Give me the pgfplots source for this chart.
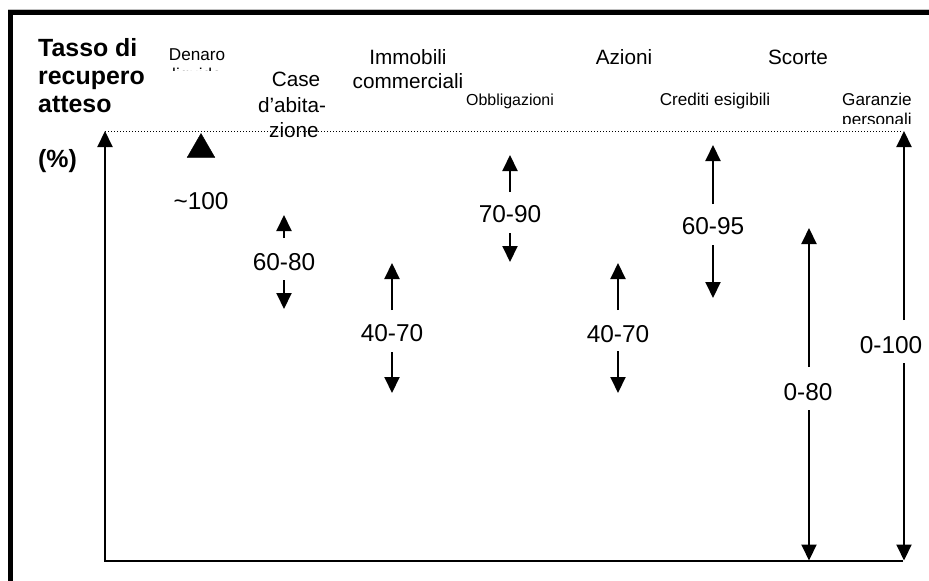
\documentclass[border=0pt]{standalone}
\usepackage{fontspec}
\setmainfont{Liberation Sans}
\usepackage{pgfplots}
\pgfplotsset{compat=1.18}
\usetikzlibrary{arrows.meta}
\newcommand{\fs}[1]{\fontsize{#1}{#1}\selectfont}
\tikzset{
  seg/.style={mark=none, black, line width=2bp},
  arr/.style={seg, -{Triangle[width=15bp,length=16bp]}},
  lab/.style={font=\fs{24.5}, inner sep=0pt, anchor=center},
  cat/.style={font=\fs{20.8}, inner sep=0pt, anchor=base},
  sm/.style={font=\fs{17.2}, inner sep=0pt, anchor=base},
  ttl/.style={font=\bfseries\fs{25}, inner sep=0pt, anchor=base west}}
\begin{document}
\begin{tikzpicture}
\begin{axis}[name=ax, scale only axis, width=929bp, height=581bp,
  xmin=0, xmax=929, ymin=0, ymax=581, y dir=reverse,
  axis lines=none, clip=false]
% frame
\addplot[mark=none, gray!50, line width=0.8bp] coordinates {(8,9) (929,9)};
\addplot[mark=none, black, line width=5bp, line join=miter] coordinates {(10.3,581) (10.3,13) (929,13)};
% axes
\addplot[arr, line join=miter] coordinates {(903,560.5) (105,560.5) (105,131)};
\addplot[mark=none, black, line width=1bp, dash pattern=on 1bp off 2bp] coordinates {(105,131.5) (903,131.5)};
% Denaro liquido ~100
\addplot[only marks, mark=triangle*, mark size=16bp, black] coordinates {(201,149.5)};
% Case d'abitazione 60-80
\addplot[arr] coordinates {(284,238) (284,215)};
\addplot[arr] coordinates {(284,280) (284,309)};
% Immobili commerciali 40-70
\addplot[arr] coordinates {(392,310) (392,263)};
\addplot[arr] coordinates {(392,352) (392,393)};
% Obbligazioni 70-90
\addplot[arr] coordinates {(510,192) (510,155)};
\addplot[arr] coordinates {(510,233) (510,262)};
% Azioni 40-70
\addplot[arr] coordinates {(618,310) (618,263)};
\addplot[arr] coordinates {(618,351) (618,393)};
% Crediti esigibili 60-95
\addplot[arr] coordinates {(713,204) (713,145)};
\addplot[arr] coordinates {(713,245) (713,298)};
% Scorte 0-80
\addplot[arr] coordinates {(809,367) (809,228)};
\addplot[arr] coordinates {(809,410) (809,560.5)};
% Garanzie personali 0-100
\addplot[arr] coordinates {(904,320) (904,131)};
\addplot[arr] coordinates {(904,363) (904,560.5)};
% title
\node[ttl] at (axis cs:38,57) {Tasso di};
\node[ttl] at (axis cs:38,84.5) {recupero};
\node[ttl] at (axis cs:38,112) {atteso};
\node[ttl] at (axis cs:38,167) {(\%)};
% category labels
\node[sm] at (axis cs:197,61) {Denaro};
\begin{scope}
\clip (axis cs:150,40) rectangle (axis cs:250,70.5);
\node[sm] at (axis cs:197,80.5) {liquido};
\end{scope}
\node[cat] at (axis cs:296,87) {Case};
\node[cat] at (axis cs:292,112) {d’abita-};
\node[cat] at (axis cs:294,137) {zione};
\node[cat] at (axis cs:408,65) {Immobili};
\node[cat] at (axis cs:408,89) {commerciali};
\node[sm, font=\fs{16}] at (axis cs:510,105) {Obbligazioni};
\node[cat] at (axis cs:624,65) {Azioni};
\node[cat] at (axis cs:798,65) {Scorte};
\node[sm] at (axis cs:715,105) {Crediti esigibili};
\node[sm] at (axis cs:877,105) {Garanzie};
\begin{scope}
\clip (axis cs:820,108) rectangle (axis cs:929,123.5);
\node[sm] at (axis cs:877,125) {personali};
\end{scope}
% range labels
\node[lab] at (axis cs:201,201) {\textasciitilde100};
\node[lab] at (axis cs:284,262) {60-80};
\node[lab] at (axis cs:392,333) {40-70};
\node[lab] at (axis cs:510,214) {70-90};
\node[lab] at (axis cs:618,334) {40-70};
\node[lab] at (axis cs:713,226) {60-95};
\node[lab] at (axis cs:808,392) {0-80};
\node[lab] at (axis cs:891,345) {0-100};
\end{axis}
\pgfresetboundingbox
\path (ax.south west) rectangle (ax.north east);
\end{tikzpicture}
\end{document}
